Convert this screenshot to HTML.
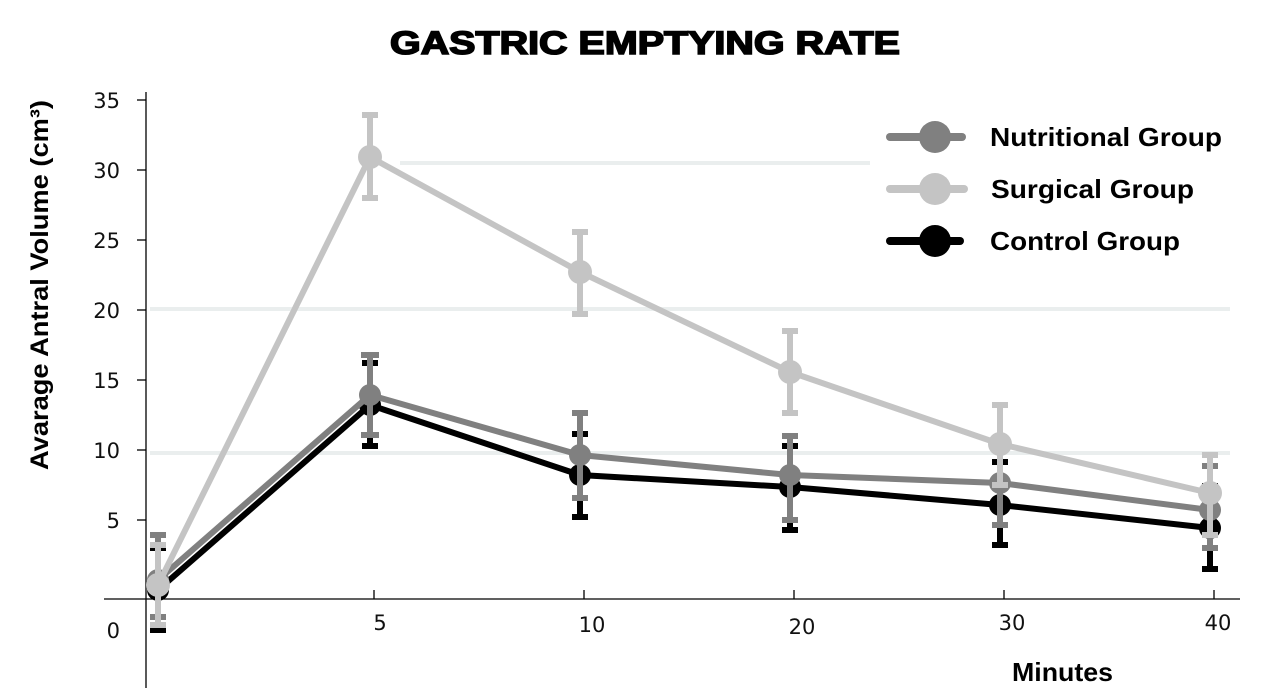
<!DOCTYPE html>
<html><head><meta charset="utf-8"><style>html,body{margin:0;padding:0;background:#fff}svg{display:block}</style></head>
<body>
<svg width="1276" height="700" xmlns="http://www.w3.org/2000/svg" font-family="Liberation Sans, Arial, sans-serif">
<rect width="1276" height="700" fill="#fff"/>
<text x="645" y="54" text-anchor="middle" font-size="32" font-weight="bold" stroke="#000" stroke-width="1.6" textLength="510" lengthAdjust="spacingAndGlyphs">GASTRIC EMPTYING RATE</text>
<g stroke="#eaeeee" stroke-width="4">
<line x1="400" y1="163" x2="870" y2="163"/>
<line x1="150" y1="309" x2="1230" y2="309"/>
<line x1="150" y1="453" x2="1230" y2="453"/>
</g>
<g stroke="#000" stroke-width="1.3">
<line x1="146" y1="92" x2="146" y2="688"/>
<line x1="104" y1="599" x2="1240" y2="599"/>
<line x1="137" y1="100" x2="146" y2="100"/><line x1="137" y1="170" x2="146" y2="170"/>
<line x1="137" y1="240" x2="146" y2="240"/><line x1="137" y1="310" x2="146" y2="310"/>
<line x1="137" y1="380" x2="146" y2="380"/><line x1="137" y1="450" x2="146" y2="450"/>
<line x1="137" y1="520" x2="146" y2="520"/>
<line x1="374" y1="590" x2="374" y2="599"/><line x1="584" y1="590" x2="584" y2="599"/>
<line x1="794" y1="590" x2="794" y2="599"/><line x1="1004" y1="590" x2="1004" y2="599"/><line x1="1214" y1="590" x2="1214" y2="599"/>
</g>
<g font-size="21" font-family="DejaVu Sans, sans-serif" text-anchor="end" fill="#111">
<text x="120" y="108">35</text><text x="120" y="178">30</text><text x="120" y="248">25</text>
<text x="120" y="318">20</text><text x="120" y="388">15</text><text x="120" y="458">10</text>
<text x="120" y="528">5</text><text x="120" y="638">0</text>
</g>
<g font-size="21" font-family="DejaVu Sans, sans-serif" text-anchor="middle" fill="#111">
<text x="380" y="630">5</text><text x="592" y="632">10</text><text x="802" y="634">20</text><text x="1012" y="630">30</text><text x="1218" y="630">40</text>
</g>
<text transform="translate(48,285) rotate(-90)" text-anchor="middle" font-size="25" font-weight="bold" textLength="370" lengthAdjust="spacingAndGlyphs">Avarage Antral Volume  (cm³)</text>
<text x="1012" y="681" font-size="26" font-weight="bold" textLength="101" lengthAdjust="spacingAndGlyphs">Minutes</text>
<!-- Control -->
<g stroke="#000" stroke-width="6" fill="none">
<polyline points="158,590 370,405 580,475 790,487 1000,505 1210,528"/>
<path d="M158,548V630M150,548h16M150,630h16M370,363V446M362,363h16M362,446h16M580,434V517M572,434h16M572,517h16M790,446V530M782,446h16M782,530h16M1000,462V545M992,462h16M992,545h16M1210,486V569M1202,486h16M1202,569h16"/>
</g>
<g fill="#000"><circle cx="158" cy="590" r="11"/><circle cx="370" cy="405" r="11"/><circle cx="580" cy="475" r="11"/><circle cx="790" cy="487" r="11"/><circle cx="1000" cy="505" r="11"/><circle cx="1210" cy="528" r="11"/></g>
<!-- Nutritional -->
<g stroke="#808080" stroke-width="6" fill="none">
<polyline points="158,580 370,395 580,455 790,475 1000,483 1210,510"/>
<path d="M158,535V617M150,535h16M150,617h16M370,355V435M361,355h18M361,435h18M580,413V498M572,413h16M572,498h16M790,436V520M782,436h16M782,520h16M1000,443V525M992,443h16M992,525h16M1210,466V548M1202,466h16M1202,548h16"/>
</g>
<g fill="#808080"><circle cx="158" cy="580" r="11"/><circle cx="370" cy="395" r="11"/><circle cx="580" cy="455" r="11"/><circle cx="790" cy="475" r="11"/><circle cx="1000" cy="483" r="11"/><circle cx="1210" cy="510" r="11"/></g>
<!-- Surgical -->
<g stroke="#c4c4c4" stroke-width="6" fill="none">
<polyline points="158,585 370,157 580,272 790,372 1000,444 1210,493"/>
<path d="M158,545V625M150,545h16M150,625h16M370,115V198M362,115h16M362,198h16M580,232V314M572,232h16M572,314h16M790,331V413M782,331h16M782,413h16M1000,405V485M992,405h16M992,485h16M1210,455V535M1202,455h16M1202,535h16"/>
</g>
<g fill="#c4c4c4"><circle cx="158" cy="585" r="12"/><circle cx="370" cy="157" r="12"/><circle cx="580" cy="272" r="12"/><circle cx="790" cy="372" r="12"/><circle cx="1000" cy="444" r="12"/><circle cx="1210" cy="493" r="12"/></g>
<!-- Legend -->
<g stroke-width="8" stroke-linecap="round">
<line x1="890" y1="137" x2="962" y2="137" stroke="#808080"/>
<line x1="890" y1="189" x2="964" y2="189" stroke="#c4c4c4"/>
<line x1="890" y1="241" x2="960" y2="241" stroke="#000"/>
</g>
<circle cx="935" cy="137" r="16" fill="#808080"/>
<circle cx="935" cy="189" r="16" fill="#c4c4c4"/>
<circle cx="935" cy="241" r="16" fill="#000"/>
<g font-size="26" font-weight="bold">
<text x="990" y="146" textLength="232" lengthAdjust="spacingAndGlyphs">Nutritional Group</text>
<text x="991" y="198" textLength="203" lengthAdjust="spacingAndGlyphs">Surgical Group</text>
<text x="990" y="250" textLength="190" lengthAdjust="spacingAndGlyphs">Control Group</text>
</g>
</svg>
</body></html>
